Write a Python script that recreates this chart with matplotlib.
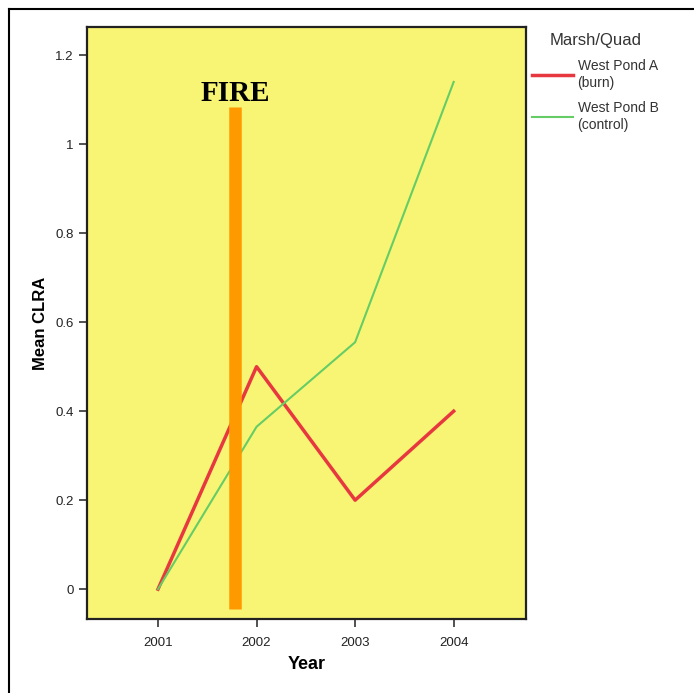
import matplotlib
matplotlib.use("Agg")
import matplotlib.pyplot as plt
from matplotlib.lines import Line2D

# data
years = [2001, 2002, 2003, 2004]
pond_a = [0.0, 0.50, 0.20, 0.40]
pond_b = [0.0, 0.365, 0.555, 1.14]
fire_year = 2001.78
fire_span = [-0.045, 1.083]

plt.rcParams['font.family'] = ['Liberation Sans', 'DejaVu Sans']

fig = plt.figure(figsize=(6.94, 6.93), dpi=100)
ax = fig.add_axes([0.1254, 0.1068, 0.632, 0.854])
ax.set_facecolor('#f8f574')

ax.plot(years, pond_a, color='#e8383f', lw=2.5, label='West Pond A\n(burn)', zorder=3)
ax.plot(years, pond_b, color='#66cc66', lw=1.5, label='West Pond B\n(control)', zorder=3)
ax.vlines(fire_year, fire_span[0], fire_span[1], color='#ff9900', lw=9, zorder=4)
ax.text(fire_year, 1.097, 'FIRE', family='Liberation Serif', fontweight='bold',
        fontsize=21, ha='center', va='baseline', color='black')

ax.set_xlim(2000.28, 2004.73)
ax.set_ylim(-0.067, 1.263)
ax.set_xticks(years)
ax.set_xticklabels([str(y) for y in years])
ax.set_yticks([0, 0.2, 0.4, 0.6, 0.8, 1.0, 1.2])
ax.set_yticklabels(['0', '0.2', '0.4', '0.6', '0.8', '1', '1.2'])
ax.tick_params(labelsize=9.5, length=6, width=1.2, colors='#333333', labelcolor='#222222')
ax.tick_params(axis='x', pad=7)
for s in ax.spines.values():
    s.set_linewidth(1.6)
    s.set_color('#222222')

ax.set_xlabel('Year', fontsize=13, fontweight='bold', labelpad=5)
ax.set_ylabel('Mean CLRA', fontsize=12, fontweight='bold', labelpad=5)

leg = ax.legend(loc='upper left', bbox_to_anchor=(0.995, 1.005), frameon=False,
                title='Marsh/Quad', fontsize=10, title_fontsize=12,
                handlelength=3.0, handletextpad=0.3, labelspacing=0.85,
                borderaxespad=0.2)
for t in leg.get_texts():
    t.set_color('#333333')
leg.get_title().set_color('#333333')

# outer frame (left and top edges)
fig.add_artist(Line2D([0.013, 0.013], [0.0, 0.987], color='black', lw=1.5))
fig.add_artist(Line2D([0.013, 1.0], [0.987, 0.987], color='black', lw=1.5))

fig.savefig('out.png', dpi=100)
